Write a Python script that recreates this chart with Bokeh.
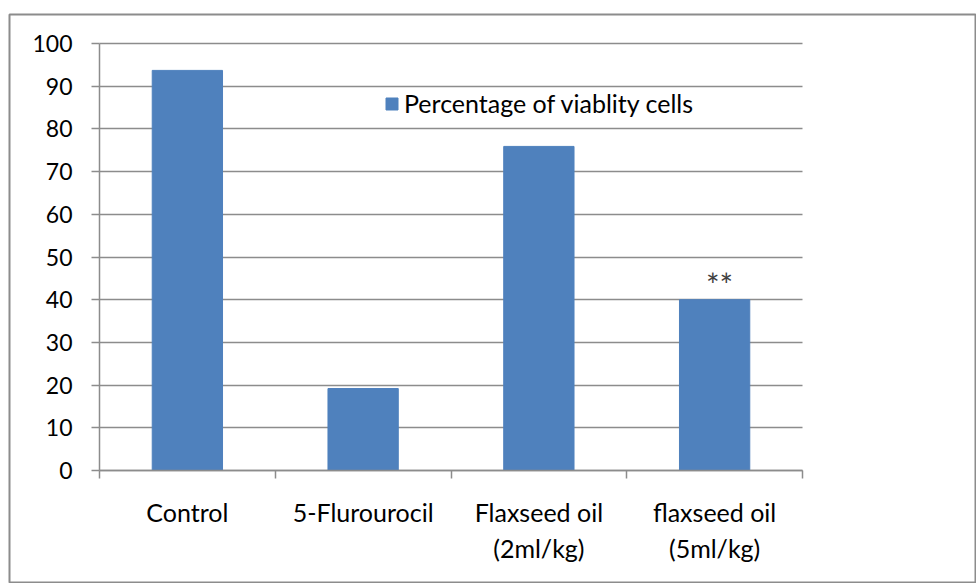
from bokeh.plotting import figure
from bokeh.models import (FixedTicker, Legend, LegendItem,
                          ColumnDataSource, Range1d)
from bokeh.core.properties import value
from bokeh.embed import file_html
from bokeh.resources import INLINE

# ---- data ----
categories = ["Control", "5-Flurourocil", "Flaxseed oil\n(2ml/kg)", "flaxseed oil\n(5ml/kg)"]
viability = [93.7, 19.2, 75.9, 40.0]
marks = ["", "", "", "**"]
y_ticks = [0, 10, 20, 30, 40, 50, 60, 70, 80, 90, 100]
series_name = "Percentage of viablity cells"

FONT = "Lato"
GRAY = "#8c8c8c"
BAR = "#4F81BD"

W, H = 976, 583
# chart-area box (outlined) and the plot region inside it, in pixels
box_l, box_t = 9, 14
pl_l, pl_r, pl_t, pl_b = 99, 802, 43, 470

n = len(categories)
ymax = y_ticks[-1]
xs = (pl_r - pl_l) / n
ys = (pl_b - pl_t) / ymax
x_start = (box_l - pl_l) / xs
x_end = (W - pl_l) / xs
y_end = (pl_b - box_t) / ys
y_start = (pl_b - H) / ys

xpos = [i + 0.5 for i in range(n)]
bounds = list(range(n + 1))
src = ColumnDataSource(dict(x=xpos, top=viability, mark=marks))

p = figure(width=W, height=H, output_backend="svg", toolbar_location=None,
           x_range=Range1d(x_start, x_end), y_range=Range1d(y_start, y_end),
           min_border_left=box_l, min_border_right=0, min_border_top=box_t,
           min_border_bottom=0, title=None)
p.outline_line_color = GRAY
p.outline_line_width = 2
p.background_fill_color = "white"
p.border_fill_color = "white"

r = p.vbar(x="x", top="top", width=0.4, source=src, fill_color=BAR, line_color=BAR)

p.text(x="x", y="top", text="mark", source=src, text_font=value(FONT),
       text_font_size="32px", text_align="center", text_baseline="alphabetic",
       x_offset=5, y_offset=-15, text_color="#404040")

# x axis: labels at centers, ticks at boundaries
xa = p.xaxis[0]
xa.fixed_location = 0
xa.bounds = (0, n)
xa.ticker = FixedTicker(ticks=xpos, minor_ticks=bounds)
xa.major_label_overrides = {x: c for x, c in zip(xpos, categories)}
xa.major_tick_line_color = None
xa.major_tick_out = 0
xa.major_tick_in = 0
xa.minor_tick_line_color = GRAY
xa.minor_tick_line_width = 1.5
xa.minor_tick_out = 8
xa.minor_tick_in = 0
xa.axis_line_color = GRAY
xa.axis_line_width = 1.5
xa.major_label_standoff = 18
xa.major_label_text_font = FONT
xa.major_label_text_font_size = "25px"
xa.major_label_text_color = "black"

ya = p.yaxis[0]
ya.fixed_location = 0
ya.bounds = (0, ymax)
ya.ticker = FixedTicker(ticks=y_ticks)
ya.minor_tick_line_color = None
ya.major_tick_line_color = GRAY
ya.major_tick_line_width = 1.5
ya.major_tick_out = 8
ya.major_tick_in = 0
ya.axis_line_color = GRAY
ya.axis_line_width = 1.5
ya.major_label_standoff = 19
ya.major_label_text_font = FONT
ya.major_label_text_font_size = "23px"
ya.major_label_text_color = "black"

p.xgrid.visible = False
p.ygrid.ticker = FixedTicker(ticks=y_ticks)
p.ygrid.bounds = (0, ymax)
p.ygrid.cross_bounds = (0, n)
p.ygrid.grid_line_color = GRAY
p.ygrid.grid_line_width = 1.5

legend = Legend(items=[LegendItem(label=series_name, renderers=[r])],
                location=(384 - box_l, H - 118), border_line_color=None,
                background_fill_alpha=0, padding=0, margin=0,
                glyph_width=15, glyph_height=15, label_standoff=5,
                label_text_font=FONT, label_text_font_size="25px",
                label_text_color="black")
p.add_layout(legend)

open("out.html", "w").write(file_html(p, INLINE))
